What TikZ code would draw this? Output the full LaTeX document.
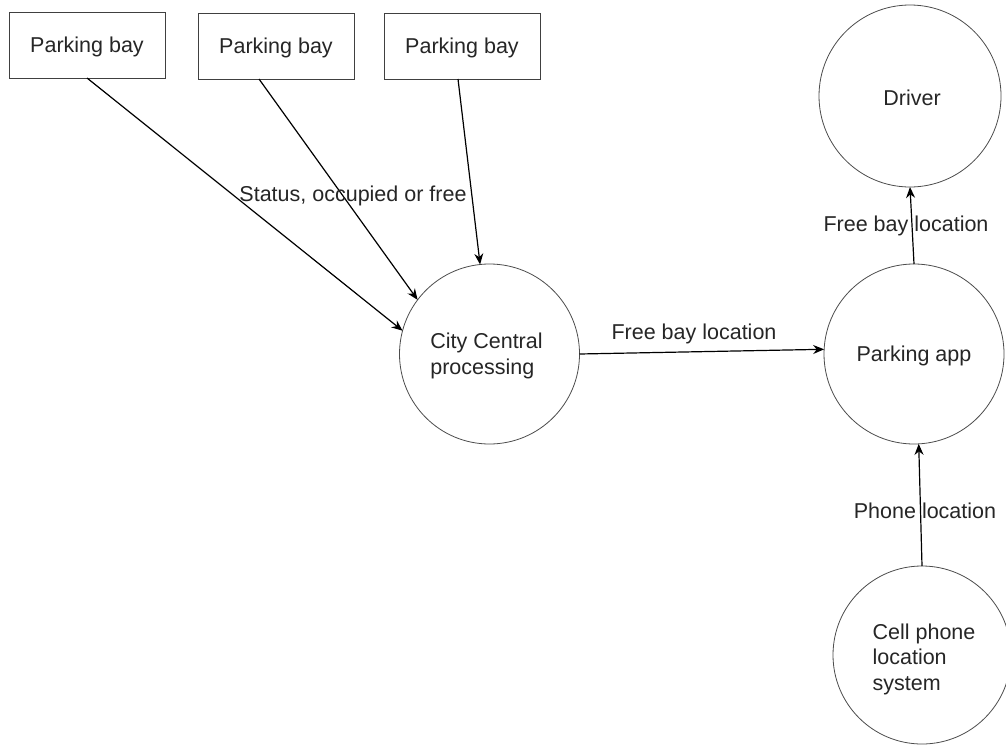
\documentclass[tikz,border=0pt]{standalone}
\usepackage{fontspec}
\setmainfont{Liberation Sans}
\usetikzlibrary{arrows.meta,calc}
\begin{document}
\begin{tikzpicture}[x=1pt,y=-1pt,
  every node/.style={font=\fontsize{21.5}{25.5}\selectfont, text=black!85},
  bay/.style={draw=black!75, line width=1pt, rectangle, minimum width=156pt, minimum height=66pt, inner sep=0pt, outer sep=0pt},
  proc/.style={draw=black!70, line width=0.8pt, circle, minimum size=180pt, inner sep=0pt, outer sep=0pt, align=left},
  flow/.style={draw=black, line width=1.2pt, -{Stealth[length=11pt,width=9pt]}},
  lbl/.style={fill=none, inner sep=0pt},
  dn/.style={label={[font=\fontsize{21.5}{25.5}\selectfont, text=black!85, align=left]center:#1}}
]
\useasboundingbox (0,0) rectangle (1006,744);
\clip (0,0) rectangle (1006,744);
\fill[white] (0,0) rectangle (1006,744);

\node[bay] (b1) at (87,45) {};
\node[bay] (b2) at (276,46) {};
\node[bay] (b3) at (462,46) {};
\node[lbl] (t1) at ($(b1.center)+(0,2)$) {Parking bay};
\node[lbl] (t2) at ($(b2.center)+(0,2)$) {Parking bay};
\node[lbl] (t3) at ($(b3.center)+(0,2)$) {Parking bay};

\node[proc] (cc) at (489.5,354) {};
\node[proc, minimum size=182pt] (drv) at (910,96) {};
\node[proc] (app) at (914,354) {};
\node[proc, minimum size=178pt] (cell) at (922,655) {};
\node[lbl, align=left] (tcc) at ($(cc.center)+(-3,2)$) {City Central\\processing};
\node[lbl] (tdrv) at ($(drv.center)+(2,2)$) {Driver};
\node[lbl] (tapp) at ($(app.center)+(0,2)$) {Parking app};
\node[lbl, align=left] (tcell) at ($(cell.center)+(2,4)$) {Cell phone\\location\\system};

\draw[flow] (b1.south) -- (cc.165);
\draw[flow] ($(b2.south)+(-17,0)$) -- (cc.143);
\draw[flow] ($(b3.south)+(-4,0)$) -- (cc.96);
\draw[flow] (cc.east) -- (app.177);
\draw[flow] (app.north) -- (drv.south);
\draw[flow] (cell.north) -- (app.-87);

\node[lbl] (s1) at (353,196) {Status, occupied or free};
\node[lbl] (s2) at (694,334) {Free bay location};
\node[lbl] (s3) at (906,226) {Free bay location};
\node[lbl] (s4) at (925,511) {Phone location};
\end{tikzpicture}
\end{document}
